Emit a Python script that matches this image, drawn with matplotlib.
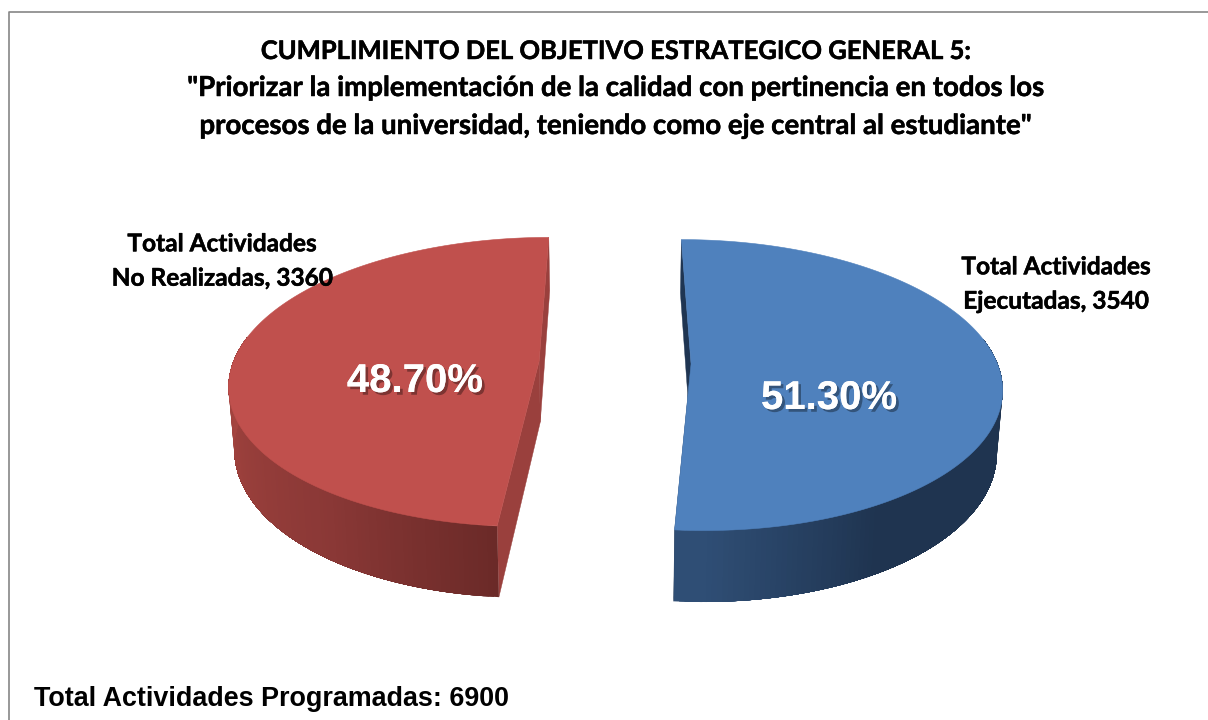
"""3D exploded pie: cumplimiento del objetivo estrategico general 5."""

import numpy as np
import matplotlib
matplotlib.use("Agg")
import matplotlib.pyplot as plt
from matplotlib.patches import Polygon
import matplotlib.patheffects as pe

TITLE_LINES = [
    "CUMPLIMIENTO DEL OBJETIVO ESTRATEGICO GENERAL 5:",
    '"Priorizar la implementación de la calidad con pertinencia en todos los',
    'procesos de la universidad, teniendo como eje central al estudiante"',
]
SLICE_NAMES = ["Total Actividades\nEjecutadas", "Total Actividades\nNo Realizadas"]
SLICE_VALUES = [3540, 3360]
SLICE_PERCENT = ["51.30%", "48.70%"]
TOTAL_LABEL = "Total Actividades Programadas"
TOTAL_VALUE = 6900

TOP_COLORS = ["#4F81BD", "#C0504D"]
CUT_COLORS = ["#1F3552", "#9A403D"]

# perspective camera, everything in pixels of the output
CENTER_U, CENTER_V = 615, 362.5
RADIUS = 306
EXPLODE = 76
DEPTH = 2110
FLATTEN = 0.464
HEIGHT = 61
BOTTOM_SHRINK = 0.985


def project(x, y, z=0.0):
    w = 1 + np.asarray(y) / DEPTH
    u = np.asarray(x) / w
    v = -FLATTEN * np.asarray(y) / w + z / w
    shrink = 1 - (1 - BOTTOM_SHRINK) * (z / HEIGHT)
    return CENTER_U + u * shrink, CENTER_V + v


def slice_point(theta, mid, z=0.0):
    x = EXPLODE * np.sin(mid) + RADIUS * np.sin(theta)
    y = EXPLODE * np.cos(mid) + RADIUS * np.cos(theta)
    return project(x, y, z)


def wall_color(t_deg, anchors, colors):
    rgb = np.array([matplotlib.colors.to_rgb(c) for c in colors])
    return [np.interp(t_deg, anchors, rgb[:, i]) for i in range(3)]


def draw_slice(ax, start, end, top_color, cut_color, wall_range, anchors, colors):
    mid = (start + end) / 2

    # cut faces
    for edge in (start, end):
        a = slice_point(np.array([edge]), mid)
        b = slice_point(np.array([edge]), mid, HEIGHT)
        ca = project(EXPLODE * np.sin(mid), EXPLODE * np.cos(mid))
        cb = project(EXPLODE * np.sin(mid), EXPLODE * np.cos(mid), HEIGHT)
        pts = [(float(ca[0]), float(ca[1])), (a[0][0], a[1][0]), (b[0][0], b[1][0]),
               (float(cb[0]), float(cb[1]))]
        ax.add_patch(Polygon(pts, closed=True, facecolor=cut_color, edgecolor=cut_color, lw=0.3))

    # outer wall: each strip runs to the far end of the wall and the next one paints over it,
    # so no seams show between strips
    steps = np.linspace(wall_range[0], wall_range[1], 120)
    for t0, t1 in zip(steps[:-1], steps[1:]):
        th = np.radians(np.linspace(t0, wall_range[1], 60))
        up = slice_point(th, mid)
        low = slice_point(th, mid, HEIGHT)
        pts = np.column_stack([
            np.r_[up[0], low[0][::-1]],
            np.r_[up[1], low[1][::-1]],
        ])
        col = wall_color((t0 + t1) / 2, anchors, colors)
        ax.add_patch(Polygon(pts, closed=True, facecolor=col, edgecolor="none"))

    # top face
    th = np.linspace(start, end, 300)
    arc = slice_point(th, mid)
    apex = project(EXPLODE * np.sin(mid), EXPLODE * np.cos(mid))
    pts = np.column_stack([np.r_[float(apex[0]), arc[0]], np.r_[float(apex[1]), arc[1]]])
    ax.add_patch(Polygon(pts, closed=True, facecolor=top_color, edgecolor=top_color, lw=0.4))


fig = plt.figure(figsize=(12.08, 7.2), dpi=100)
ax = fig.add_axes([0, 0, 1, 1])
ax.set_xlim(0, 1208)
ax.set_ylim(720, 0)
ax.axis("off")

# chart frame, it runs off the right and bottom of the picture
ax.plot([9, 9, 1208], [720, 12, 12], color="#868686", lw=1.2)

total = sum(SLICE_VALUES)
blue_end = 2 * np.pi * SLICE_VALUES[0] / total

draw_slice(
    ax, 0.0, blue_end, TOP_COLORS[0], CUT_COLORS[0],
    (np.degrees(blue_end), 80),
    [90, 150, 180], ["#1F3450", "#1F3450", "#2F4E75"],
)
draw_slice(
    ax, blue_end, 2 * np.pi, TOP_COLORS[1], CUT_COLORS[1],
    (np.degrees(blue_end), 280),
    [185, 215, 265], ["#6B2A28", "#8A3836", "#A4443F"],
)

heavier = [pe.withStroke(linewidth=0.35, foreground="black")]
# the capitals of the first line run wide in Lato, so it gets a smaller size
for line, y, size in zip(TITLE_LINES, [51, 88, 126], [18.4, 19.9, 19.9]):
    ax.text(615, y, line, ha="center", va="center", family="Lato", weight="bold",
            fontsize=size, color="black", path_effects=heavier)

name_pos = [(1056, 284), (222, 261)]
for name, value, pos in zip(SLICE_NAMES, SLICE_VALUES, name_pos):
    ax.text(pos[0], pos[1], f"{name}, {value}", ha="center", va="center", family="Lato",
            weight="bold", fontsize=17.6, color="black", linespacing=1.6, path_effects=heavier)

pct_pos = [(829, 398), (415, 381)]
shadow = [pe.withSimplePatchShadow(offset=(2, -2), shadow_rgbFace="black", alpha=0.35), pe.Normal()]
for pct, pos in zip(SLICE_PERCENT, pct_pos):
    ax.text(pos[0], pos[1], pct, ha="center", va="center", family="Liberation Sans",
            weight="bold", fontsize=28.9, color="white", path_effects=shadow)

ax.text(34, 699, f"{TOTAL_LABEL}: {TOTAL_VALUE}", ha="left", va="center",
        family="Liberation Sans", weight="bold", fontsize=19.35, color="black")

fig.savefig("out.png", dpi=100)
